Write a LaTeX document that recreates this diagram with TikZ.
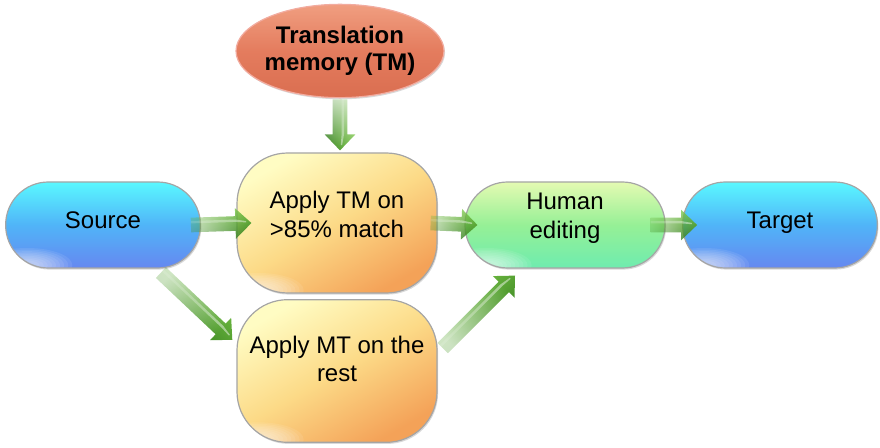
\documentclass[tikz,border=0pt]{standalone}
\usepackage{fontspec}
\setmainfont{Liberation Sans}
\usetikzlibrary{shapes.geometric,shadows,fadings}

\definecolor{edgegray}{RGB}{165,165,165}
\definecolor{bluetop}{RGB}{90,248,255}
\definecolor{bluemid}{RGB}{80,180,248}
\definecolor{bluebot}{RGB}{102,136,240}
\definecolor{greentop}{RGB}{228,250,178}
\definecolor{greenmid}{RGB}{150,240,150}
\definecolor{greenbot}{RGB}{110,236,175}
\definecolor{ambertop}{RGB}{255,252,195}
\definecolor{ambermid}{RGB}{252,218,135}
\definecolor{amberbot}{RGB}{244,162,88}
\definecolor{tmtop}{RGB}{240,158,128}
\definecolor{tmmid}{RGB}{228,124,94}
\definecolor{tmbot}{RGB}{218,110,80}
\definecolor{tmedge}{RGB}{242,172,160}
\definecolor{arrowlight}{RGB}{125,200,75}
\definecolor{arrowdark}{RGB}{50,125,28}

% arrow shafts fade out towards the tail
\tikzfading[name=tailfade, bottom color=transparent!70, middle color=transparent!12, top color=transparent!0]

\tikzset{
  boxbase/.style={draw=edgegray, line width=0.9pt, inner sep=0pt,
    drop shadow={opacity=0.3, shadow xshift=0.8pt, shadow yshift=-1.2pt}},
  % soft light spot near the lower left corner: stacked translucent ellipses
  glare/.style={path picture={
    \foreach \r in {1,0.91,...,0.2}
      \fill[white, opacity=0.085]
        ([xshift=16pt,yshift=2pt]path picture bounding box.south west)
        ellipse ({34pt*\r} and {13pt*\r});}},
  stadium/.style={boxbase, glare, rectangle, rounded corners=32pt,
    minimum width=146pt, minimum height=64.5pt},
  roundbox/.style={boxbase, glare, rectangle, rounded corners=38pt,
    minimum width=150pt, minimum height=105pt},
  bluefill/.style={top color=bluetop, bottom color=bluebot, middle color=bluemid},
  greenfill/.style={top color=greentop, bottom color=greenbot, middle color=greenmid},
  amberfill/.style={top color=ambertop, bottom color=amberbot, middle color=ambermid, shading angle=30},
  tmfill/.style={top color=tmtop, bottom color=tmbot, middle color=tmmid},
  lbl/.style={font=\fontsize{18}{21.5}\selectfont, align=center, inner sep=0pt, text=black},
}

% thick green block arrow from one point to another
\makeatletter
\newcommand\flowarrow[2]{%
  \coordinate (fa-s) at (#1);
  \coordinate (fa-e) at (#2);
  \pgfmathanglebetweenpoints{\pgfpointanchor{fa-s}{center}}{\pgfpointanchor{fa-e}{center}}%
  \let\faang\pgfmathresult
  \pgfpointdiff{\pgfpointanchor{fa-s}{center}}{\pgfpointanchor{fa-e}{center}}%
  \edef\fadx{\the\pgf@x}\edef\fady{\the\pgf@y}%
  \pgfmathveclen{\fadx}{\fady}\let\falen\pgfmathresult
  \pgfmathsetmacro\faneck{\falen-12}%
  \pgfmathsetmacro\fafadeang{\faang-90}%
  \begin{scope}[shift={(fa-s)}, rotate=\faang]
    \shade[top color=arrowlight, bottom color=arrowdark, shading angle=\faang,
           path fading=tailfade, fading angle=\fafadeang]
      (0pt,-5.5pt) -- (\faneck pt,-5.5pt) -- (\faneck pt,-11.5pt) -- (\falen pt,0pt)
      -- (\faneck pt,11.5pt) -- (\faneck pt,5.5pt) -- (0pt,5.5pt) -- cycle;
    % light stripe along the shaft
    \fill[white, opacity=0.45, path fading=tailfade, fading angle=\fafadeang]
      (0pt,1.2pt) -- (\faneck pt,1.2pt) -- (\falen pt-4pt,0.6pt) -- (\falen pt-4pt,1.6pt)
      -- (\faneck pt,3pt) -- (0pt,3pt) -- cycle;
  \end{scope}%
}
\makeatother

\begin{document}
\begin{tikzpicture}[x=0.75pt, y=-0.75pt]
\useasboundingbox (0,0) rectangle (880,448);

\node[ellipse, boxbase, draw=tmedge, tmfill, minimum width=156pt, minimum height=70pt,
  label={[lbl, font=\fontsize{18}{20}\selectfont\bfseries, yshift=0pt]center:{Translation\\memory (TM)}}]
  (tm) at (340,51) {};

\node[stadium, bluefill, label={[lbl, yshift=3.75pt]center:Source}] (src) at (103,225) {};
\node[roundbox, amberfill, label={[lbl, yshift=6.4pt]center:{Apply TM on\\>85\% match}}]
  (applytm) at (337,223) {};
\node[roundbox, amberfill, minimum height=107pt, label={[lbl, yshift=9pt]center:{Apply MT on the\\rest}}]
  (applymt) at (337,371) {};
\node[stadium, greenfill, minimum width=150pt, label={[lbl, yshift=5pt]center:{Human\\editing}}]
  (human) at (565,225) {};
\node[stadium, bluefill, label={[lbl, yshift=1.5pt]center:Target}] (target) at (780,225) {};

\flowarrow{[yshift=-0.75pt]tm.south}{[xshift=2.25pt, yshift=1.5pt]applytm.north}
\flowarrow{[xshift=-7.5pt]src.east}{[xshift=11.25pt]applytm.west}
\flowarrow{[xshift=-5.25pt]applytm.east}{[xshift=9.75pt]human.west}
\flowarrow{[xshift=-11.25pt]human.east}{[xshift=11.25pt]target.west}
\flowarrow{[shift={(-30pt,-3pt)}]src.south east}{[shift={(-3pt,23.25pt)}]applymt.west}
\flowarrow{[shift={(3.75pt,17.25pt)}]applymt.east}{[shift={(-37.5pt,-5.25pt)}]human.south}
\end{tikzpicture}
\end{document}
